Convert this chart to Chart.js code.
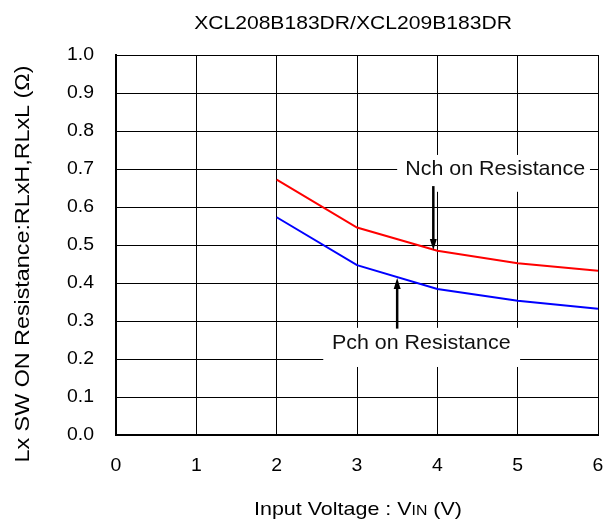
<!DOCTYPE html>
<html>
<head>
<meta charset="utf-8">
<script src="https://cdn.jsdelivr.net/npm/chart.js@4/dist/chart.umd.min.js"></script>
<style>
  html, body { margin: 0; padding: 0; background: #fff; }
  canvas { display: block; }
</style>
</head>
<body>
<canvas id="ronChart" width="608" height="521"></canvas>
<script>
// input voltage (V)
const vin = [2, 3, 4, 5, 6]
// Nch / Pch on resistance (ohm)
const nchRes = [0.672, 0.546, 0.485, 0.452, 0.432]
const pchRes = [0.573, 0.447, 0.384, 0.353, 0.332]

const xTickLabels = ['0', '1', '2', '3', '4', '5', '6']
const yTickLabels = ['0.0', '0.1', '0.2', '0.3', '0.4', '0.5', '0.6', '0.7', '0.8', '0.9', '1.0']

const chartTitle = 'XCL208B183DR/XCL209B183DR'
const yTitle = 'Lx SW ON Resistance:RLxH,RLxL (Ω)'

// callouts, in data units
const notes = [
    { text: 'Nch on Resistance', box: [3.5, 5.9, 0.737, 0.64], at: [4.72, 0.70], arrow: [3.95, 0.655, 0.487] },
    { text: 'Pch on Resistance', box: [2.58, 5.03, 0.282, 0.179], at: [3.8, 0.242], arrow: [3.5, 0.28, 0.413] }
]

const FONT = '"Liberation Sans", Arial, sans-serif'

function stretchText(ctx, text, x, y, size, sx, align) {
    ctx.save()
    ctx.font = size + 'px ' + FONT
    ctx.translate(x, y)
    ctx.scale(sx, 1)
    ctx.textAlign = align || 'center'
    ctx.fillText(text, 0, 0)
    ctx.restore()
}

const drawExtras = {
    id: 'drawExtras',
    afterDraw(chart) {
        const ctx = chart.ctx
        const xs = chart.scales.x
        const ys = chart.scales.y
        const area = chart.chartArea
        ctx.save()
        ctx.fillStyle = '#000'
        ctx.textBaseline = 'middle'

        // tick labels
        xTickLabels.forEach((t, i) => {
            stretchText(ctx, t, xs.getPixelForValue(i), area.bottom + 31, 18, 1.08)
        })
        yTickLabels.forEach((t, i) => {
            stretchText(ctx, t, area.left - 22, ys.getPixelForValue(i / 10), 18, 1.08, 'right')
        })

        ctx.textBaseline = 'alphabetic'
        // title
        stretchText(ctx, chartTitle, (area.left + area.right) / 2 - 4, 29, 19, 1.11)

        // x axis title with subscript
        const sx = 1.13
        ctx.font = '19px ' + FONT
        const a = 'Input Voltage : V'
        const c = ' (V)'
        const wa = ctx.measureText(a).width * sx
        const wc = ctx.measureText(c).width * sx
        ctx.font = '14px ' + FONT
        const wb = ctx.measureText('IN').width * sx
        let x0 = 358 - (wa + wb + wc) / 2
        stretchText(ctx, a, x0, 515, 19, sx, 'left')
        stretchText(ctx, 'IN', x0 + wa, 515, 14, sx, 'left')
        stretchText(ctx, c, x0 + wa + wb, 515, 19, sx, 'left')

        // y axis title
        ctx.save()
        ctx.translate(29, 264)
        ctx.rotate(-Math.PI / 2)
        ctx.scale(1.11, 1)
        ctx.font = '21px ' + FONT
        ctx.textAlign = 'center'
        ctx.fillText(yTitle, 0, 0)
        ctx.restore()

        // callouts
        notes.forEach(n => {
            const bx1 = xs.getPixelForValue(n.box[0])
            const bx2 = xs.getPixelForValue(n.box[1])
            const by1 = ys.getPixelForValue(n.box[2])
            const by2 = ys.getPixelForValue(n.box[3])
            ctx.fillStyle = '#fff'
            ctx.fillRect(bx1, by1, bx2 - bx1, by2 - by1)
            ctx.fillStyle = '#111'
            ctx.textBaseline = 'middle'
            stretchText(ctx, n.text, xs.getPixelForValue(n.at[0]), ys.getPixelForValue(n.at[1]), 21, 1.02)

            const ax = xs.getPixelForValue(n.arrow[0])
            const ay1 = ys.getPixelForValue(n.arrow[1])
            const ay2 = ys.getPixelForValue(n.arrow[2])
            const dir = ay2 > ay1 ? 1 : -1
            ctx.strokeStyle = '#000'
            ctx.lineWidth = 2.5
            ctx.beginPath()
            ctx.moveTo(ax, ay1)
            ctx.lineTo(ax, ay2 - dir * 8)
            ctx.stroke()
            ctx.fillStyle = '#000'
            ctx.beginPath()
            ctx.moveTo(ax, ay2)
            ctx.lineTo(ax - 3.5, ay2 - dir * 11)
            ctx.lineTo(ax + 3.5, ay2 - dir * 11)
            ctx.closePath()
            ctx.fill()
        })
        ctx.restore()
    }
}

new Chart(document.getElementById('ronChart'), {
    type: 'line',

    data: {
        datasets: [
            {
                label: 'Nch on Resistance',
                data: vin.map((v, i) => ({ x: v, y: nchRes[i] })),
                borderColor: '#ff0000',
                borderWidth: 2,
                pointRadius: 0,
                tension: 0
            },
            {
                label: 'Pch on Resistance',
                data: vin.map((v, i) => ({ x: v, y: pchRes[i] })),
                borderColor: '#0000ff',
                borderWidth: 2,
                pointRadius: 0,
                tension: 0
            }
        ]
    },

    options: {
        responsive: false,
        maintainAspectRatio: false,
        animation: false,
        events: [],

        layout: {
            padding: { left: 116, top: 55, right: 10, bottom: 86 }
        },

        plugins: {
            legend: { display: false },
            tooltip: { enabled: false }
        },

        scales: {
            x: {
                type: 'linear',
                min: 0,
                max: 6,
                ticks: { display: false, stepSize: 1 },
                grid: { color: '#000', lineWidth: 1, drawTicks: false },
                border: { color: '#000', width: 2 },
                afterFit(scale) { scale.height = 0 }
            },
            y: {
                min: 0,
                max: 1,
                ticks: { display: false, stepSize: 0.1 },
                grid: { color: '#000', lineWidth: 1, drawTicks: false },
                border: { color: '#000', width: 2 },
                afterFit(scale) { scale.width = 0 }
            }
        }
    },

    plugins: [drawExtras]
})
</script>
</body>
</html>
